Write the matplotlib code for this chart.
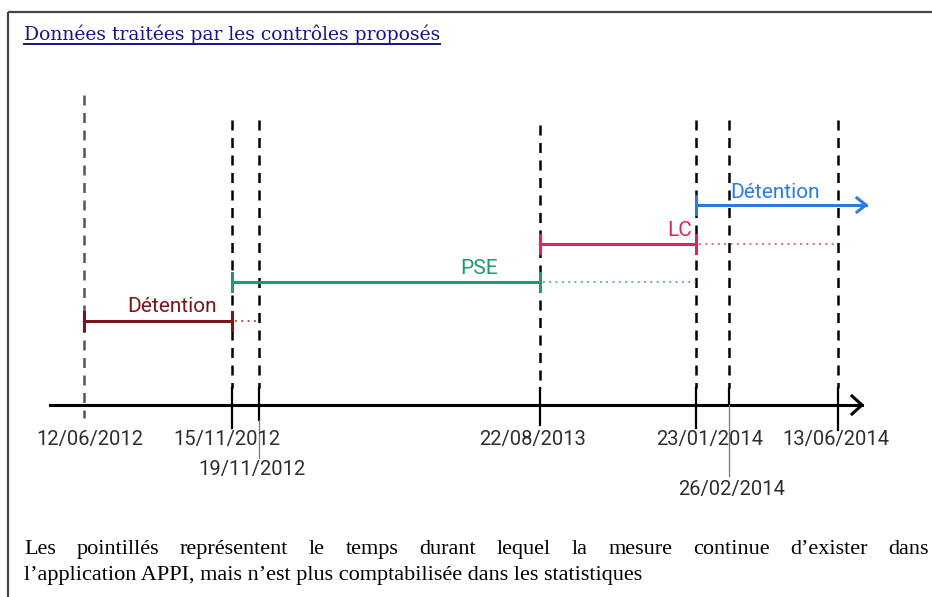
import matplotlib
matplotlib.use("Agg")
import matplotlib.pyplot as plt

# Dates on the (schematic, not to scale) timeline
dates = ["12/06/2012", "15/11/2012", "19/11/2012", "22/08/2013",
         "23/01/2014", "26/02/2014", "13/06/2014"]
date_pos = [84, 232, 259, 540, 696, 729, 838]

# Measures: label, start date index, end date index, dotted-end index
measures = ["Détention", "PSE", "LC", "Détention"]
m_start = [0, 1, 3, 4]
m_end = [1, 3, 4, None]          # None -> still running (arrow)
m_dotted_end = [2, 4, 6, None]
m_colors = ["#7a1518", "#1f9a6c", "#e0225a", "#2b7be0"]

title = "Données traitées par les contrôles proposés"
note_line1 = "Les pointillés représentent le temps durant lequel la mesure continue d’exister dans"
note_line2 = "l’application APPI, mais n’est plus comptabilisée dans les statistiques"

W, H = 932, 597
fig = plt.figure(figsize=(W / 100, H / 100), dpi=100)
ax = fig.add_axes([0, 0, 1, 1])
ax.set_xlim(0, W)
ax.set_ylim(H, 0)
ax.axis("off")

# frame
ax.plot([8, W], [12, 12], color="#444444", lw=1.6, solid_capstyle="butt")
ax.plot([8, 8], [12, H], color="#444444", lw=1.6, solid_capstyle="butt")

# title (underlined)
t = ax.text(24, 40, title, fontsize=13.5, family="DejaVu Serif",
            color="#15158a", va="baseline", ha="left")
fig.canvas.draw()
r = fig.canvas.get_renderer()
bb = t.get_window_extent(r)
ax.plot([24, 24 + bb.width], [44, 44], color="#15158a", lw=1.4)

# timeline axis
axis_y = 405
ax.plot([50, 862], [axis_y, axis_y], color="black", lw=2.2)
ax.plot([852, 862, 852], [396, axis_y, 414], color="black", lw=2.2)

tops = [95, 120, 120, 125, 120, 120, 120]
tick_bottoms = [418, 428, 420, 425, 428, 405, 430]
for i, x in enumerate(date_pos):
    col = "#555555" if i == 0 else "black"
    bottom = 418 if i == 0 else 388
    ax.plot([x, x], [tops[i], bottom], color=col, lw=1.8,
            linestyle=(0, (4, 3)))
    if i != 0:
        ax.plot([x, x], [388, tick_bottoms[i]], color="black", lw=1.6)
# thin leader lines for the lower labels
ax.plot([259, 259], [420, 458], color="#777777", lw=0.9)
ax.plot([729, 729], [405, 476], color="#777777", lw=0.9)

label_x = [90, 227, 252, 533, 710, 836, 732]
label_y = [440, 440, 470, 440, 440, 440, 490]
order = [0, 1, 2, 3, 4, 6, 5]
for k, i in enumerate(order):
    ax.text(label_x[k], label_y[k], dates[i], fontsize=14.5, family="Roboto",
            color="#2e2e2e", ha="center", va="center")

# measures
bar_y = [321, 282, 244, 205]
label_pos = [(172, 307, "center"), (479, 268, "center"),
             (692, 231, "right"), (775, 192, "center")]
for j, name in enumerate(measures):
    c = m_colors[j]
    y = bar_y[j]
    x0 = date_pos[m_start[j]]
    ax.plot([x0, x0], [y - 9, y + 9], color=c, lw=2.2)
    if m_end[j] is None:
        x1 = 866
        ax.plot([x0, x1], [y, y], color=c, lw=2.2)
        ax.plot([x1 - 9, x1, x1 - 9], [y - 7, y, y + 7], color=c, lw=2.2)
    else:
        x1 = date_pos[m_end[j]]
        ax.plot([x0, x1], [y, y], color=c, lw=2.2)
        ax.plot([x1, x1], [y - 9, y + 9], color=c, lw=2.2)
        xd = date_pos[m_dotted_end[j]]
        ax.plot([x1 + 3, xd], [y, y], color=c, lw=1.3, alpha=0.8,
                linestyle=(0, (1, 2.5)))
    lx, ly, ha = label_pos[j]
    ax.text(lx, ly, name, fontsize=15, family="Roboto", color=c,
            ha=ha, va="center")

# footer note, first line justified
words = note_line1.split(" ")
left, right = 24, 929
objs = [ax.text(0, 554, w, fontsize=16, family="Liberation Serif",
                color="black", va="baseline", ha="left") for w in words]
fig.canvas.draw()
inv = ax.transData.inverted()
widths = []
for o in objs:
    e = o.get_window_extent(r)
    p0 = inv.transform((e.x0, e.y0))
    p1 = inv.transform((e.x1, e.y0))
    widths.append(p1[0] - p0[0])
gap = (right - left - sum(widths)) / (len(words) - 1)
x = left
for o, w in zip(objs, widths):
    o.set_x(x)
    x += w + gap
ax.text(left, 580, note_line2, fontsize=16, family="Liberation Serif",
        color="black", va="baseline", ha="left")

fig.savefig("out.png", dpi=100)
